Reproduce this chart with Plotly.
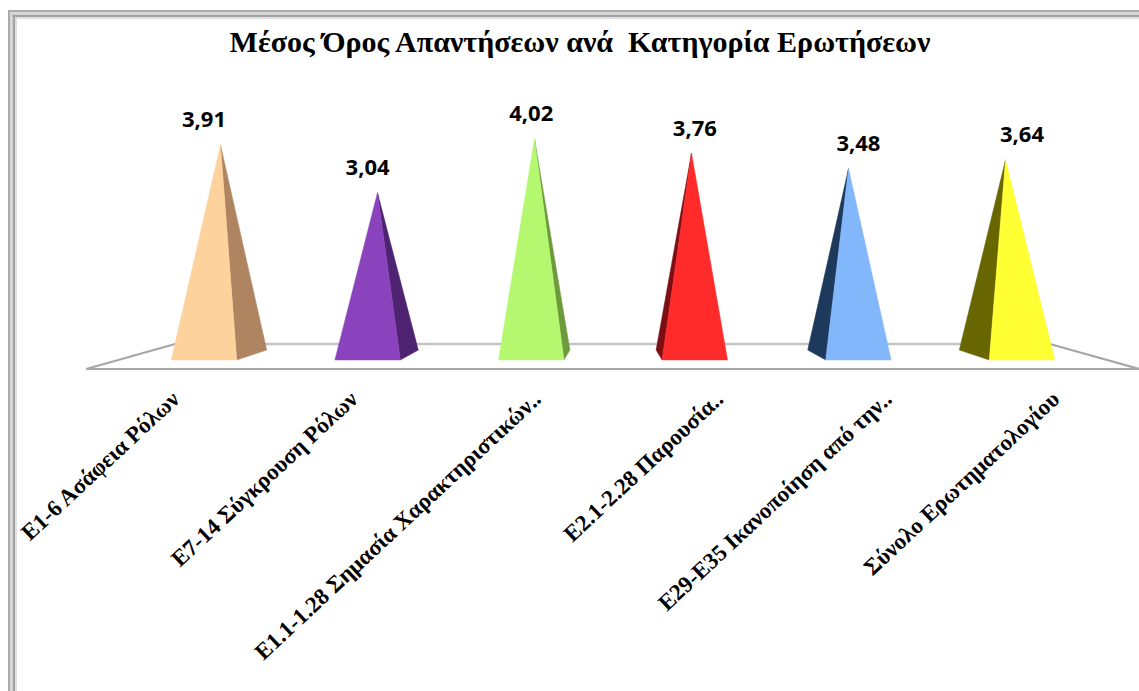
import plotly.graph_objects as go

# Survey results: mean answer per question category
categories = [
    "Ε1-6 Ασάφεια Ρόλων",
    "Ε7-14 Σύγκρουση Ρόλων",
    "Ε1.1-1.28 Σημασία Χαρακτηριστικών..",
    "Ε2.1-2.28 Παρουσία..",
    "Ε29-Ε35 Ικανοποίηση από την..",
    "Σύνολο Ερωτηματολογίου",
]
values = [3.91, 3.04, 4.02, 3.76, 3.48, 3.64]
front_colors = ["#FDD29D", "#8A43BD", "#B5F870", "#FF2A2A", "#83B7FB", "#FFFF33"]
side_colors = ["#AE8560", "#4E2372", "#6E9A3E", "#7D0F14", "#1D3A5C", "#686600"]

TITLE = "Μέσος Όρος Απαντήσεων ανά  Κατηγορία Ερωτήσεων"

# Pseudo-3D pyramid geometry, in axis units
HALF_BASE = 0.2
BASE_DEPTH = 0.18       # rise of the rear base corner
REAR_SKEW = 0.0733      # sideways shift of the rear corner per slot from the middle
APEX_SKEW = 0.0403      # sideways shift of the apex per slot from the middle
MIDDLE = 2.5
LABEL_GAP = 0.42

# Floor outline, in axis units
FLOOR_FRONT = -0.164
FLOOR_BACK = 0.29
FLOOR_X = (-0.72, -0.177, 5.17, 5.715)

# Where each rotated category label ends, relative to its pyramid
tick_shift = [-0.19, -0.10, 0.02, 0.135, 0.165, 0.19]

fig = go.Figure()

# Floor of the 3D box
fig.add_trace(go.Scatter(
    x=[FLOOR_X[1], FLOOR_X[2]], y=[FLOOR_BACK, FLOOR_BACK], mode="lines",
    line=dict(color="#C4C4C4", width=2.5), hoverinfo="skip"))
fig.add_trace(go.Scatter(
    x=[FLOOR_X[1], FLOOR_X[0], FLOOR_X[3], FLOOR_X[2]],
    y=[FLOOR_BACK, FLOOR_FRONT, FLOOR_FRONT, FLOOR_BACK], mode="lines",
    line=dict(color="#A6A6A6", width=2.2), hoverinfo="skip"))

# Each pyramid: the visible side face, then the front face
for i, (v, front, side) in enumerate(zip(values, front_colors, side_colors)):
    lean = MIDDLE - i
    apex = i + APEX_SKEW * lean
    near = i + HALF_BASE if lean > 0 else i - HALF_BASE
    rear = near + REAR_SKEW * lean
    fig.add_trace(go.Scatter(
        x=[near, rear, apex, near], y=[0, BASE_DEPTH, v, 0],
        mode="lines", fill="toself", fillcolor=side,
        line=dict(color=side, width=0.5), hoverinfo="skip"))
    fig.add_trace(go.Scatter(
        x=[i - HALF_BASE, i + HALF_BASE, apex, i - HALF_BASE], y=[0, 0, v, 0],
        mode="lines", fill="toself", fillcolor=front,
        line=dict(color=front, width=0.5), hoverinfo="skip"))

# Value labels with a decimal comma
fig.add_trace(go.Scatter(
    x=list(range(len(values))),
    y=[v + LABEL_GAP for v in values],
    mode="text",
    text=[f"{v:.2f}".replace(".", ",") for v in values],
    textposition="middle center",
    textfont=dict(family="Open Sans", size=22, color="#000000", weight="bold"),
    hoverinfo="skip"))

# Stepped grey frame along the top and left edges
frame = []
for offset, width, color in [(0, 2, "#ABABAB"), (2, 2, "#D9D9D9"), (4.5, 2.5, "#A3A3A3"), (7, 2, "#E0E0E0")]:
    frame.append(dict(type="rect", xref="paper", yref="paper", layer="above",
                      x0=(8 + offset) / 1139, x1=(8 + offset + width) / 1139,
                      y0=-1, y1=(380 - 10 - offset) / 380,
                      line_width=0, fillcolor=color))
    frame.append(dict(type="rect", xref="paper", yref="paper", layer="above",
                      x0=(8 + offset) / 1139, x1=1,
                      y0=(380 - 10 - offset - width) / 380, y1=(380 - 10 - offset) / 380,
                      line_width=0, fillcolor=color))

fig.update_layout(
    template="none",
    width=1139, height=691,
    margin=dict(l=0, r=0, t=0, b=311),
    paper_bgcolor="#FFFFFF", plot_bgcolor="#FFFFFF",
    showlegend=False,
    shapes=frame,
    title=dict(text=TITLE, x=580 / 1139, xanchor="center", y=1 - 41 / 691, yanchor="middle",
               font=dict(family="Liberation Serif", size=30, color="#000000", weight="bold")),
    xaxis=dict(
        range=[-1.247, 5.715],
        tickmode="array",
        tickvals=[i + s for i, s in enumerate(tick_shift)],
        ticktext=categories,
        tickangle=-43,
        ticklabelstandoff=0,
        ticks="", showgrid=False, zeroline=False, showline=False,
        automargin=False,
        tickfont=dict(family="Liberation Serif", size=23, color="#000000", weight="bold"),
    ),
    yaxis=dict(range=[-0.364, 6.545], visible=False, showgrid=False, zeroline=False),
)

fig.write_html("out.html")
